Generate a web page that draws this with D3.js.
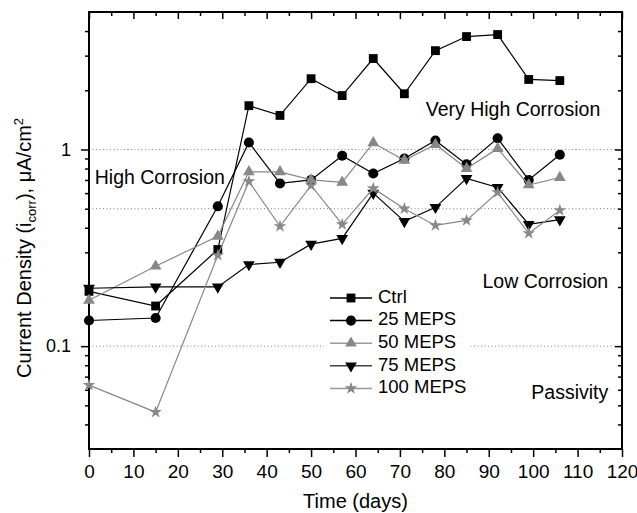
<!DOCTYPE html>
<html>
<head>
<meta charset="utf-8">
<script src="https://cdn.jsdelivr.net/npm/d3@7"></script>
<style>
  body { margin: 0; background: #fff; }
  svg { display: block; font-family: "Liberation Sans", Arial, sans-serif; }
</style>
</head>
<body>
<div id="chart"></div>
<script>
// sampling days
const days = [0, 15, 29, 36, 43, 50, 57, 64, 71, 78, 85, 92, 99, 106];

// corrosion current density, uA/cm2
const ctrl    = [0.19, 0.16, 0.31, 1.67, 1.49, 2.29, 1.88, 2.90, 1.92, 3.18, 3.75, 3.84, 2.27, 2.24];
const meps25  = [0.135, 0.139, 0.514, 1.085, 0.672, 0.70, 0.93, 0.755, 0.90, 1.11, 0.84, 1.14, 0.70, 0.94];
const meps50  = [0.171, 0.255, 0.362, 0.77, 0.77, 0.70, 0.68, 1.08, 0.88, 1.06, 0.80, 1.01, 0.66, 0.72];
const meps75  = [0.197, 0.20, 0.20, 0.26, 0.267, 0.33, 0.353, 0.60, 0.431, 0.508, 0.713, 0.641, 0.416, 0.44];
const meps100 = [0.0634, 0.0462, 0.29, 0.688, 0.407, 0.656, 0.416, 0.634, 0.50, 0.411, 0.436, 0.605, 0.375, 0.49];

const seriesNames = ["Ctrl", "25 MEPS", "50 MEPS", "75 MEPS", "100 MEPS"];
const xTicks = d3.range(0, 121, 10);
const yTicks = [0.1, 1];
const refLines = [0.1, 0.5, 1];
const zones = [
  { label: "Very High Corrosion", x: 115.1, y: 1.58 },
  { label: "High Corrosion", x: 1.3, y: 0.71 },
  { label: "Low Corrosion", x: 116.9, y: 0.211 },
  { label: "Passivity", x: 116.9, y: 0.057 }
];

const width = 637, height = 513;
const margin = { left: 89, right: 15, top: 12, bottom: 64 };

const svg = d3.select("#chart").append("svg")
  .attr("width", width)
  .attr("height", height);

const x = d3.scaleLinear().domain([0, 120]).range([margin.left, width - margin.right]);
const y = d3.scaleLog().domain([0.03, 5]).range([height - margin.bottom, margin.top]);

const x0 = x.range()[0], x1 = x.range()[1];
const y0 = y.range()[0], y1 = y.range()[1];

// reference dotted lines
svg.append("g")
  .selectAll("line")
  .data(refLines)
  .join("line")
  .attr("x1", x0).attr("x2", x1)
  .attr("y1", d => y(d)).attr("y2", d => y(d))
  .attr("stroke", "#888")
  .attr("stroke-width", 1)
  .attr("stroke-dasharray", "1,2.5");

// minor ticks for the log axis
const yMinor = [];
[0.01, 0.1, 1].forEach(dec => {
  for (let k = 2; k <= 9; k++) {
    const v = dec * k;
    if (v > 0.03 && v < 5) yMinor.push(v);
  }
});
const xMinor = d3.range(5, 120, 10);

const font = "Liberation Sans, Arial, sans-serif";

// bottom axis
svg.append("g")
  .attr("transform", `translate(0,${y0})`)
  .call(d3.axisBottom(x).tickValues(xTicks).tickSize(8).tickPadding(8).tickSizeOuter(0))
  .call(g => g.select(".domain").remove())
  .call(g => g.selectAll("text").attr("font-size", 19).attr("fill", "#000").attr("font-family", font))
  .call(g => g.selectAll("line").attr("stroke-width", 1.5));
svg.append("g")
  .attr("transform", `translate(0,${y0})`)
  .call(d3.axisBottom(x).tickValues(xMinor).tickSize(4).tickFormat("").tickSizeOuter(0))
  .call(g => g.select(".domain").remove())
  .call(g => g.selectAll("line").attr("stroke-width", 1.5));

// top axis (ticks inward)
svg.append("g")
  .attr("transform", `translate(0,${y1})`)
  .call(d3.axisBottom(x).tickValues(xTicks).tickSize(7).tickFormat("").tickSizeOuter(0))
  .call(g => g.select(".domain").remove())
  .call(g => g.selectAll("line").attr("stroke-width", 1.5));
svg.append("g")
  .attr("transform", `translate(0,${y1})`)
  .call(d3.axisBottom(x).tickValues(xMinor).tickSize(4).tickFormat("").tickSizeOuter(0))
  .call(g => g.select(".domain").remove())
  .call(g => g.selectAll("line").attr("stroke-width", 1.5));

// left axis
svg.append("g")
  .attr("transform", `translate(${x0},0)`)
  .call(d3.axisLeft(y).tickValues(yTicks).tickFormat(d3.format("")).tickSize(8).tickPadding(10).tickSizeOuter(0))
  .call(g => g.select(".domain").remove())
  .call(g => g.selectAll("text").attr("font-size", 18).attr("fill", "#000").attr("font-family", font))
  .call(g => g.selectAll("line").attr("stroke-width", 1.5));
svg.append("g")
  .attr("transform", `translate(${x0},0)`)
  .call(d3.axisLeft(y).tickValues(yMinor).tickSize(4).tickFormat("").tickSizeOuter(0))
  .call(g => g.select(".domain").remove())
  .call(g => g.selectAll("line").attr("stroke-width", 1.5));

// right axis (ticks inward)
svg.append("g")
  .attr("transform", `translate(${x1},0)`)
  .call(d3.axisLeft(y).tickValues(yTicks).tickSize(7).tickFormat("").tickSizeOuter(0))
  .call(g => g.select(".domain").remove())
  .call(g => g.selectAll("line").attr("stroke-width", 1.5));
svg.append("g")
  .attr("transform", `translate(${x1},0)`)
  .call(d3.axisLeft(y).tickValues(yMinor).tickSize(4).tickFormat("").tickSizeOuter(0))
  .call(g => g.select(".domain").remove())
  .call(g => g.selectAll("line").attr("stroke-width", 1.5));

// frame
svg.append("rect")
  .attr("x", x0).attr("y", y1)
  .attr("width", x1 - x0).attr("height", y0 - y1)
  .attr("fill", "none")
  .attr("stroke", "#000")
  .attr("stroke-width", 2);

// zone labels
svg.append("g")
  .selectAll("text")
  .data(zones)
  .join("text")
  .attr("x", d => x(d.x))
  .attr("y", d => y(d.y))
  .attr("text-anchor", d => d.x > 60 ? "end" : "start")
  .attr("dominant-baseline", "middle")
  .attr("font-size", 19.5)
  .text(d => d.label);

// series
const series = [
  { name: seriesNames[0], values: ctrl, line: "#000", fill: "#000", legendLine: "#000", symbol: d3.symbolSquare, size: 78, rot: 0 },
  { name: seriesNames[1], values: meps25, line: "#000", fill: "#000", legendLine: "#000", symbol: d3.symbolCircle, size: 80, rot: 0 },
  { name: seriesNames[2], values: meps50, line: "#888", fill: "#888", legendLine: "#999", symbol: d3.symbolTriangle, size: 60, rot: 0 },
  { name: seriesNames[3], values: meps75, line: "#000", fill: "#000", legendLine: "#444", symbol: d3.symbolTriangle, size: 60, rot: 180 },
  { name: seriesNames[4], values: meps100, line: "#888", fill: "#888", legendLine: "#999", symbol: d3.symbolStar, size: 50, rot: 0 }
];

const line = d3.line()
  .x((d, i) => x(days[i]))
  .y(d => y(d));

series.forEach(s => {
  const g = svg.append("g");
  g.append("path")
    .attr("d", line(s.values))
    .attr("fill", "none")
    .attr("stroke", s.line)
    .attr("stroke-width", 1.2);
  g.selectAll("path.pt")
    .data(s.values)
    .join("path")
    .attr("class", "pt")
    .attr("transform", (d, i) => `translate(${x(days[i])},${y(d)}) rotate(${s.rot})`)
    .attr("d", d3.symbol().type(s.symbol).size(s.size))
    .attr("fill", s.fill);
});

// legend
const legend = svg.append("g").attr("transform", "translate(324,288)");
legend.append("rect")
  .attr("width", 146).attr("height", 110)
  .attr("fill", "#fff");
const item = legend.selectAll("g.item")
  .data(series)
  .join("g")
  .attr("class", "item")
  .attr("transform", (d, i) => `translate(0,${10 + i * 22.6})`);
item.append("line")
  .attr("x1", 6).attr("x2", 48)
  .attr("stroke", d => d.legendLine)
  .attr("stroke-width", 1.5);
item.append("path")
  .attr("transform", d => `translate(27,0) rotate(${d.rot})`)
  .attr("d", d => d3.symbol().type(d.symbol).size(d.size)())
  .attr("fill", d => d.fill);
item.append("text")
  .attr("x", 54)
  .attr("dominant-baseline", "middle")
  .attr("font-size", 18.5)
  .text(d => d.name);

// axis titles
svg.append("text")
  .attr("x", (x0 + x1) / 2)
  .attr("y", 508)
  .attr("text-anchor", "middle")
  .attr("font-size", 20)
  .text("Time (days)");

const yTitle = svg.append("text")
  .attr("transform", "translate(31,248) rotate(-90)")
  .attr("text-anchor", "middle")
  .attr("font-size", 20);
yTitle.append("tspan").text("Current Density (i");
yTitle.append("tspan").attr("font-size", 13).attr("dy", 5).text("corr");
yTitle.append("tspan").attr("dy", -5).text("), \u03bcA/cm");
yTitle.append("tspan").attr("font-size", 13).attr("dy", -8).text("2");
</script>
</body>
</html>
